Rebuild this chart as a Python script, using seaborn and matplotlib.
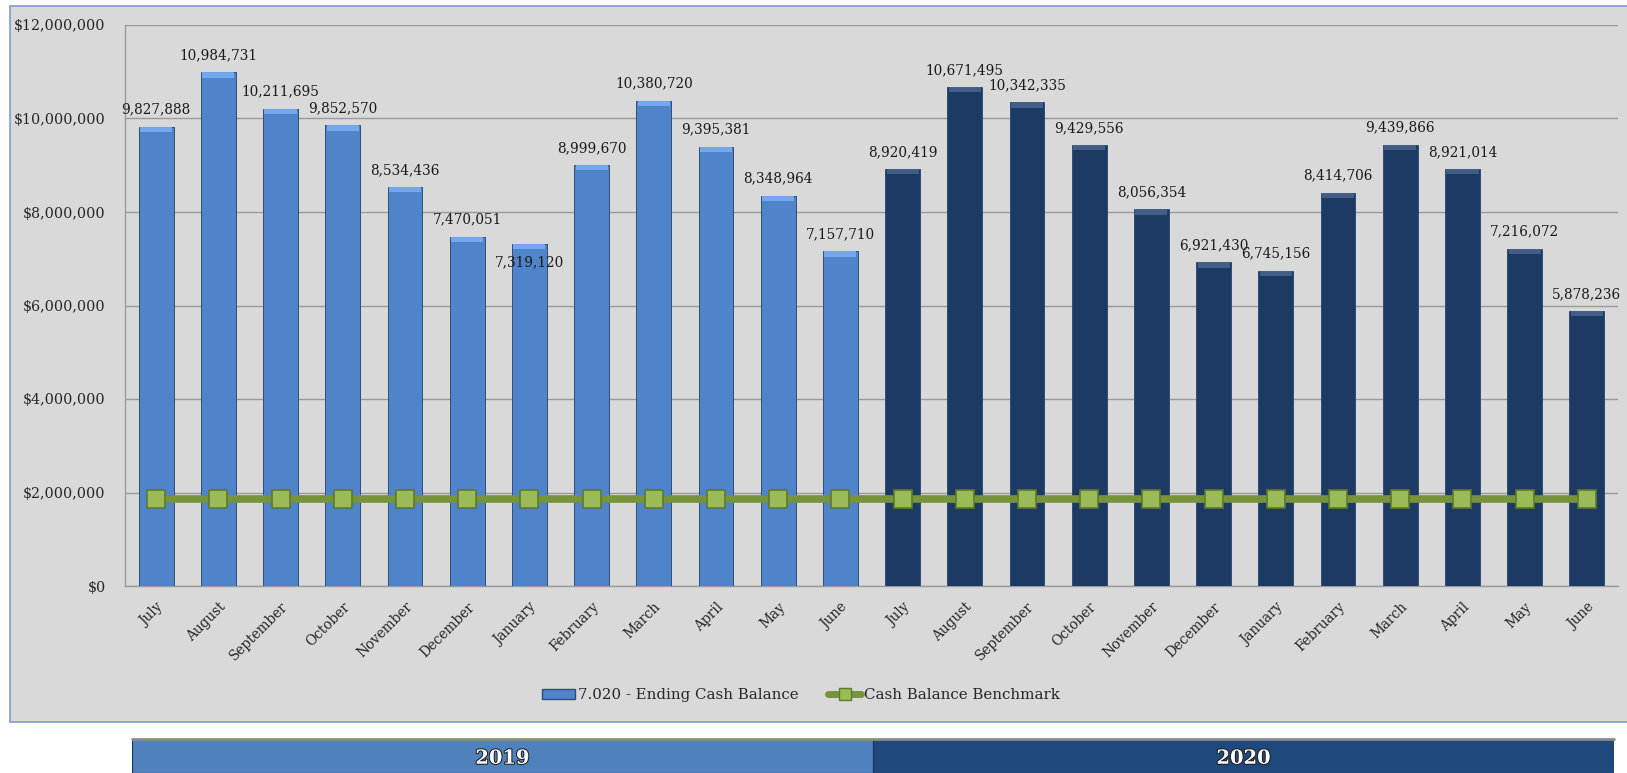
import numpy as np
import pandas as pd
import matplotlib
matplotlib.use("Agg")
import matplotlib.pyplot as plt
import matplotlib.patheffects as pe
from matplotlib.patches import Rectangle
from matplotlib.lines import Line2D
from matplotlib.ticker import FuncFormatter, MultipleLocator
import seaborn as sns

months = ["July", "August", "September", "October", "November", "December",
          "January", "February", "March", "April", "May", "June"]
years = ["2019", "2020"]
balance_2019 = [9827888, 10984731, 10211695, 9852570, 8534436, 7470051,
                7319120, 8999670, 10380720, 9395381, 8348964, 7157710]
balance_2020 = [8920419, 10671495, 10342335, 9429556, 8056354, 6921430,
                6745156, 8414706, 9439866, 8921014, 7216072, 5878236]
benchmark = [1860000] * 24
bar_label = "7.020 - Ending Cash Balance"
line_label = "Cash Balance Benchmark"

df = pd.DataFrame({
    "slot": [f"{m} {y}" for y in years for m in months],
    "month": months * 2,
    "year": [y for y in years for _ in months],
    "balance": balance_2019 + balance_2020,
})

sns.set_theme(style="white")
plt.rcParams["font.family"] = ["DejaVu Serif"]

W, H = 1627, 773
fig = plt.figure(figsize=(W / 100, H / 100), dpi=100, facecolor="white")

# outer chart frame
fig.patches.append(Rectangle((10 / W, 1 - 722 / H), (W - 9) / W, (722 - 6) / H,
                             transform=fig.transFigure, facecolor="#D9D9D9",
                             edgecolor="#7F9DC9", lw=1.2, zorder=-10))

ax = fig.add_axes([125 / W, 1 - 586 / H, (1618 - 125) / W, (586 - 25) / H])
ax.set_facecolor("#D9D9D9")

c19, c20 = "#4F84CA", "#1C3A64"
sns.barplot(data=df, x="slot", y="balance", hue="year", palette=[c19, c20],
            saturation=1, dodge=False, width=0.56, ax=ax, legend=False, zorder=3,
            edgecolor="#2E4E78", linewidth=0.7)

# bevel highlight on bar tops
cap = 110000
for p in list(ax.patches):
    x0, w, h = p.get_x(), p.get_width(), p.get_height()
    fc = p.get_facecolor()
    light = tuple(min(1, c + 0.16) for c in fc[:3])
    ax.add_patch(Rectangle((x0 + w * 0.04, h - cap), w * 0.92, cap, facecolor=light,
                           edgecolor="none", zorder=4, alpha=0.9))

xs = np.arange(len(benchmark))
sns.lineplot(x=xs, y=benchmark, ax=ax, color="#77933C", lw=5.5, zorder=5,
             marker="s", markersize=12.5, markerfacecolor="#9BBB59",
             markeredgecolor="#5E7A2C", markeredgewidth=1.2)

# data labels
for i, v in enumerate(df["balance"]):
    dy = -18 if i == 6 else 17
    ax.annotate(f"{v:,}", (i, v), xytext=(0, dy), textcoords="offset pixels",
                ha="center", va="center", fontsize=9.8, color="#1a1a1a", zorder=6)

ax.set_xlim(-0.5, 23.5)
ax.set_ylim(0, 12000000)
ax.yaxis.set_major_locator(MultipleLocator(2000000))
ax.yaxis.set_major_formatter(FuncFormatter(lambda v, _: f"${v:,.0f}"))
ax.yaxis.grid(True, color="#9A9A9A", lw=1, zorder=0)
ax.set_axisbelow(True)
ax.set_xticks(range(24))
ax.set_xticklabels(df["month"], rotation=45, ha="right", rotation_mode="anchor",
                   fontsize=9.8)
ax.tick_params(axis="x", length=0, pad=10)
ax.tick_params(axis="y", length=0, pad=14, labelsize=10.3)
for s in ["top", "right"]:
    ax.spines[s].set_visible(False)
for s in ["left", "bottom"]:
    ax.spines[s].set_color("#9A9A9A")
    ax.spines[s].set_linewidth(1)
ax.set_xlabel("")
ax.set_ylabel("")

handles = [
    Rectangle((0, 0), 1, 1, facecolor=c19, edgecolor="#2E4E78"),
    Line2D([0], [0], color="#77933C", lw=5, marker="s", markersize=9,
           markerfacecolor="#9BBB59", markeredgecolor="#5E7A2C"),
]
fig.legend(handles, [bar_label, line_label], loc="center",
           bbox_to_anchor=(801 / W, 1 - 695 / H), ncol=2, frameon=False,
           fontsize=10.8, handlelength=2.2, handletextpad=0.2, columnspacing=2.0)

# year band
yax = fig.add_axes([132 / W, 0, (1614 - 132) / W, (773 - 739) / H])
yax.set_xlim(0, 2)
yax.set_ylim(0, 1)
yax.axis("off")
for k, (yr, col) in enumerate(zip(years, ["#4F81BD", "#1F497D"])):
    yax.add_patch(Rectangle((k, 0), 1, 1, facecolor=col, edgecolor="#17365D", lw=0.8))
    yax.text(k + 0.5, 0.42, yr, ha="center", va="center", color="white",
             fontsize=14, fontweight="bold",
             path_effects=[pe.withStroke(linewidth=1.5, foreground="#202020")])
yax.plot([0, 2], [1, 1], color="#8C8C8C", lw=2, clip_on=False)

fig.savefig("out.png", dpi=100, facecolor="white")
